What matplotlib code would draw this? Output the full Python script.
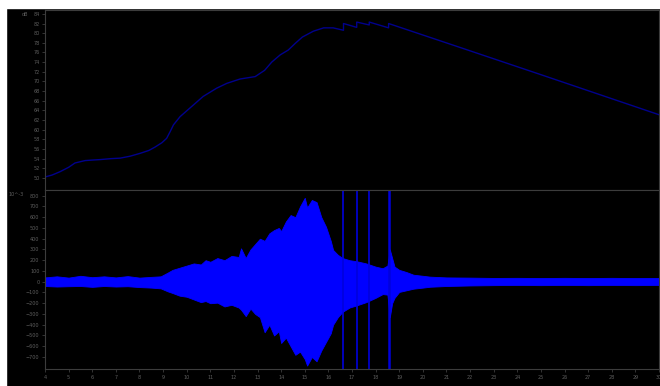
import matplotlib
matplotlib.use("Agg")
import matplotlib.pyplot as plt
from matplotlib.patches import Rectangle

# ---- data ----
level_t = [4.0, 4.3, 4.64, 5.0, 5.27, 5.7, 6.0, 6.33, 6.8, 7.18, 7.6, 8.03, 8.4, 8.66,
           8.95, 9.15, 9.3, 9.44, 9.72, 10.14, 10.7, 11.27, 11.7, 12.26, 12.9, 13.3,
           13.6, 13.96, 14.3, 14.6, 14.9, 15.36, 15.8, 16.2, 16.64, 16.64, 17.2, 17.2,
           17.73, 17.73, 18.55, 18.55, 21.6, 25.0, 30.0]
level_db = [50.2, 50.6, 51.3, 52.2, 53.1, 53.6, 53.7, 53.8, 54.0, 54.1, 54.5, 55.1, 55.7, 56.4,
            57.3, 58.2, 59.6, 61.0, 62.7, 64.5, 66.9, 68.6, 69.6, 70.5, 71.0, 72.3,
            74.0, 75.5, 76.5, 77.9, 79.2, 80.4, 81.1, 81.1, 80.6, 82.0, 81.2, 82.3,
            81.7, 82.3, 81.1, 82.0, 77.0, 71.4, 63.1]

wave_t = [4.0, 4.5, 5.0, 5.5, 6.0, 6.5, 7.0, 7.5, 8.0, 8.5, 8.9, 9.2, 9.4, 9.7, 10.0,
          10.3, 10.6, 10.8, 11.0, 11.3, 11.6, 11.9, 12.2, 12.3, 12.5, 12.7, 12.9, 13.1,
          13.3, 13.5, 13.7, 13.9, 14.0, 14.2, 14.4, 14.6, 14.8, 15.0, 15.1, 15.3, 15.5,
          15.7, 15.9, 16.1, 16.2, 16.4, 16.6, 16.9, 17.2, 17.6, 18.0, 18.3, 18.5, 18.6,
          18.7, 18.8, 19.0, 19.3, 19.6, 20.0, 20.3, 21.0, 22.0, 23.0, 24.0, 25.0, 26.0,
          27.0, 28.0, 29.0, 30.0]
wave_hi = [40, 50, 38, 55, 42, 50, 40, 52, 38, 45, 50, 85, 110, 130, 150,
           170, 160, 200, 185, 220, 200, 240, 230, 310, 220, 300, 350, 400,
           380, 450, 480, 500, 470, 560, 620, 600, 700, 780, 690, 760, 740,
           600, 510, 380, 295, 250, 220, 200, 190, 170, 140, 125, 150, 300,
           220, 140, 110, 90, 65, 55, 47, 40, 38, 35, 36, 34, 36,
           34, 36, 34, 35]
wave_lo = [-40, -45, -42, -40, -48, -40, -45, -42, -50, -55, -62, -90, -105, -130, -140,
           -165, -190, -180, -200, -195, -230, -215, -240, -260, -320, -250, -300, -330,
           -470, -400, -500, -460, -570, -520, -600, -680, -650, -720, -780, -700, -740,
           -640, -560, -480, -400, -330, -280, -240, -220, -190, -150, -115, -120, -330,
           -200, -150, -95, -80, -65, -55, -47, -40, -35, -32, -30, -32, -30,
           -32, -30, -32, -30]

spike_t = [16.64, 17.2, 17.73, 18.55]

x_ticks = list(range(4, 31))
db_ticks = list(range(50, 85, 2))
wave_ticks = list(range(-700, 801, 100))

# ---- figure ----
W, H = 660, 386
fig = plt.figure(figsize=(W / 100, H / 100), dpi=100, facecolor="black")

grey = "#3c3c3c"
lab = "#5e5e5e"

def style(ax):
    ax.set_facecolor("black")
    for s in ax.spines.values():
        s.set_color(grey)
        s.set_linewidth(0.8)
    ax.tick_params(colors=grey, labelcolor=lab, labelsize=3.5, length=2.5, width=0.6, pad=1.5)

ax1 = fig.add_axes([45 / W, 1 - 190 / H, 614 / W, 180 / H])
ax2 = fig.add_axes([45 / W, 1 - 369 / H, 614 / W, 179 / H], sharex=ax1)
style(ax1)
style(ax2)

ax1.plot(level_t, level_db, color="#00008c", lw=1.0)
ax1.set_ylim(47.5, 84.8)
ax1.set_yticks(db_ticks)
ax1.tick_params(axis="x", length=0, labelbottom=False)

ax2.fill_between(wave_t, wave_lo, wave_hi, color="#0000ff", lw=0.6, edgecolor="#0000ff")
for i, t in enumerate(spike_t):
    ax2.vlines(t, -900, 900, color="#0000dd", lw=1.8 if i == 3 else 1.2)
ax2.set_ylim(-812, 853)
ax2.set_yticks(wave_ticks)
ax2.set_xlim(4, 30)
ax2.set_xticks(x_ticks)

fig.text(25 / W, 1 - 14 / H, "dB", color=lab, fontsize=3.5, ha="center", va="center")
fig.text(16 / W, 1 - 194 / H, "10^-3", color=lab, fontsize=3.5, ha="center", va="center")

# white strips at top and left edges
fig.add_artist(Rectangle((0, 1 - 8 / H), 1, 8 / H, transform=fig.transFigure,
                         color="white", zorder=10))
fig.add_artist(Rectangle((0, 0), 6 / W, 1, transform=fig.transFigure,
                         color="white", zorder=10))

fig.savefig("out.png", dpi=100, facecolor="black")
